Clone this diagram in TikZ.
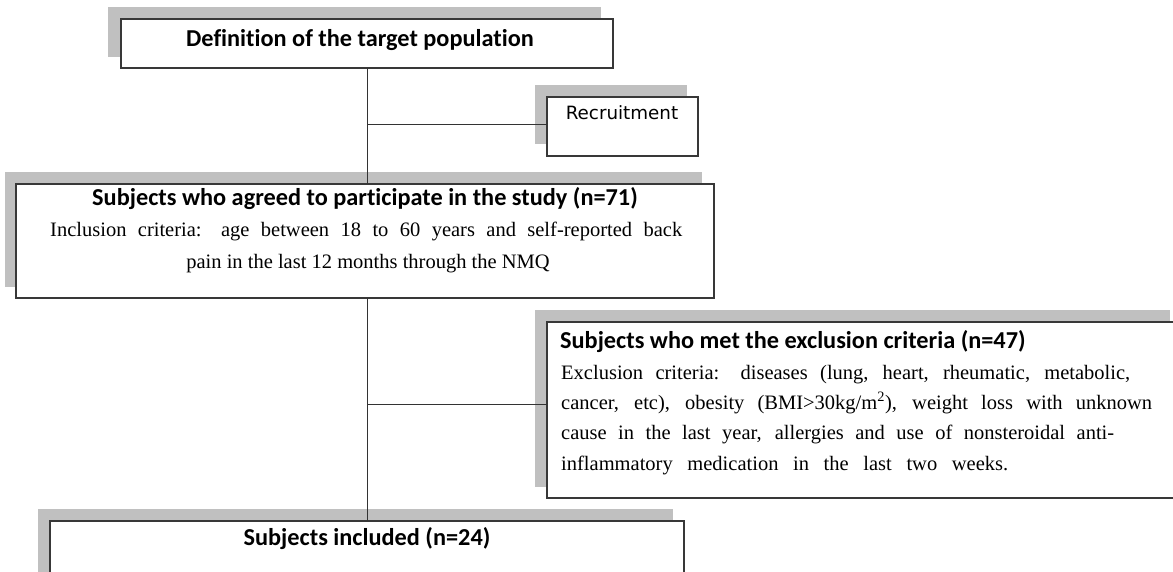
\documentclass[tikz,border=0pt]{standalone}
\usepackage{fontspec}
\setmainfont{Liberation Serif}
\newfontfamily\ttlfont[Ligatures=NoCommon]{Carlito}
\newfontfamily\serfont{Liberation Serif}
\newfontfamily\recfont{DejaVu Sans}
\definecolor{shadowc}{HTML}{C0C0C0}
\definecolor{boxc}{HTML}{383838}
\definecolor{linec}{HTML}{333333}
\tikzset{
  flowbox/.style={draw=boxc, line width=1.5pt, fill=white, inner sep=0pt, outer sep=0pt, anchor=north west},
  shadowbox/.style={fill=shadowc, draw=none},
  conn/.style={draw=linec, line width=1pt},
  ttl/.style={font=\ttlfont\bfseries\fontsize{24.3}{28}\selectfont, inner sep=0pt, anchor=mid},
  bodyl/.style={font=\serfont\fontsize{20.5}{24}\selectfont, inner sep=0pt, anchor=mid west},
  bodyc/.style={font=\serfont\fontsize{20.5}{24}\selectfont, inner sep=0pt, anchor=mid},
  rectxt/.style={font=\recfont\fontsize{18.3}{21}\selectfont, inner sep=0pt, anchor=mid},
}
\begin{document}
\begin{tikzpicture}[x=1pt,y=-1pt]
\useasboundingbox (0,0) rectangle (1173,571);
% shadows
\fill[shadowbox] (108,7) rectangle (601,57);
\fill[shadowbox] (535,85) rectangle (687,144);
\fill[shadowbox] (5,172) rectangle (702,287);
\fill[shadowbox] (535,310) rectangle (1170,487);
\fill[shadowbox] (38,509) rectangle (673,600);
% junctions
\coordinate (j1) at (367,124);
\coordinate (j2) at (367,404);
% boxes
\node[flowbox, minimum width=492pt, minimum height=49pt] (def) at (121,19) {};
\node[flowbox, minimum width=151pt, minimum height=59pt] (rec) at (547,97) {};
\node[flowbox, minimum width=698pt, minimum height=114pt] (agr) at (16,184) {};
\node[flowbox, minimum width=640pt, minimum height=176pt] (exc) at (547,322) {};
\node[flowbox, minimum width=634pt, minimum height=80pt] (inc) at (50,521) {};
% connectors
\draw[conn] (def.south) -- (def.south |- agr.north);
\draw[conn] (j1) -- (j1 -| rec.west);
\draw[conn] (def.south |- agr.south) -- (def.south |- inc.north);
\draw[conn] (j2) -- (j2 -| exc.west);
% texts
\node[ttl] (t1) at (360,44) {Definition of the target population};
\node[rectxt] (t2) at (622,117) {Recruitment};
\node[ttl] (t3) at (365,203) {Subjects who agreed to participate in the study (n=71)};
\node[bodyl] (t3a) at (50,234) {\makebox[632pt][s]{Inclusion criteria: age between 18 to 60 years and self-reported back}};
\node[bodyc] (t3b) at (368,266) {pain in the last 12 months through the NMQ};
\node[ttl, anchor=mid west] (t4) at (560,346) {Subjects who met the exclusion criteria (n=47)};
\node[bodyl] (t4a) at (561,377) {\makebox[569pt][s]{Exclusion criteria: diseases (lung, heart, rheumatic, metabolic,}};
\node[bodyl] (t4b) at (561,407) {\makebox[591pt][s]{cancer, etc), obesity (BMI>30kg/m\textsuperscript{2}), weight loss with unknown}};
\node[bodyl] (t4c) at (561,437) {\makebox[553pt][s]{cause in the last year, allergies and use of nonsteroidal anti-}};
\node[bodyl] (t4d) at (561,468) {\makebox[447pt][s]{inflammatory medication in the last two weeks.}};
\node[ttl] (t5) at (367,543) {Subjects included (n=24)};
\end{tikzpicture}
\end{document}
